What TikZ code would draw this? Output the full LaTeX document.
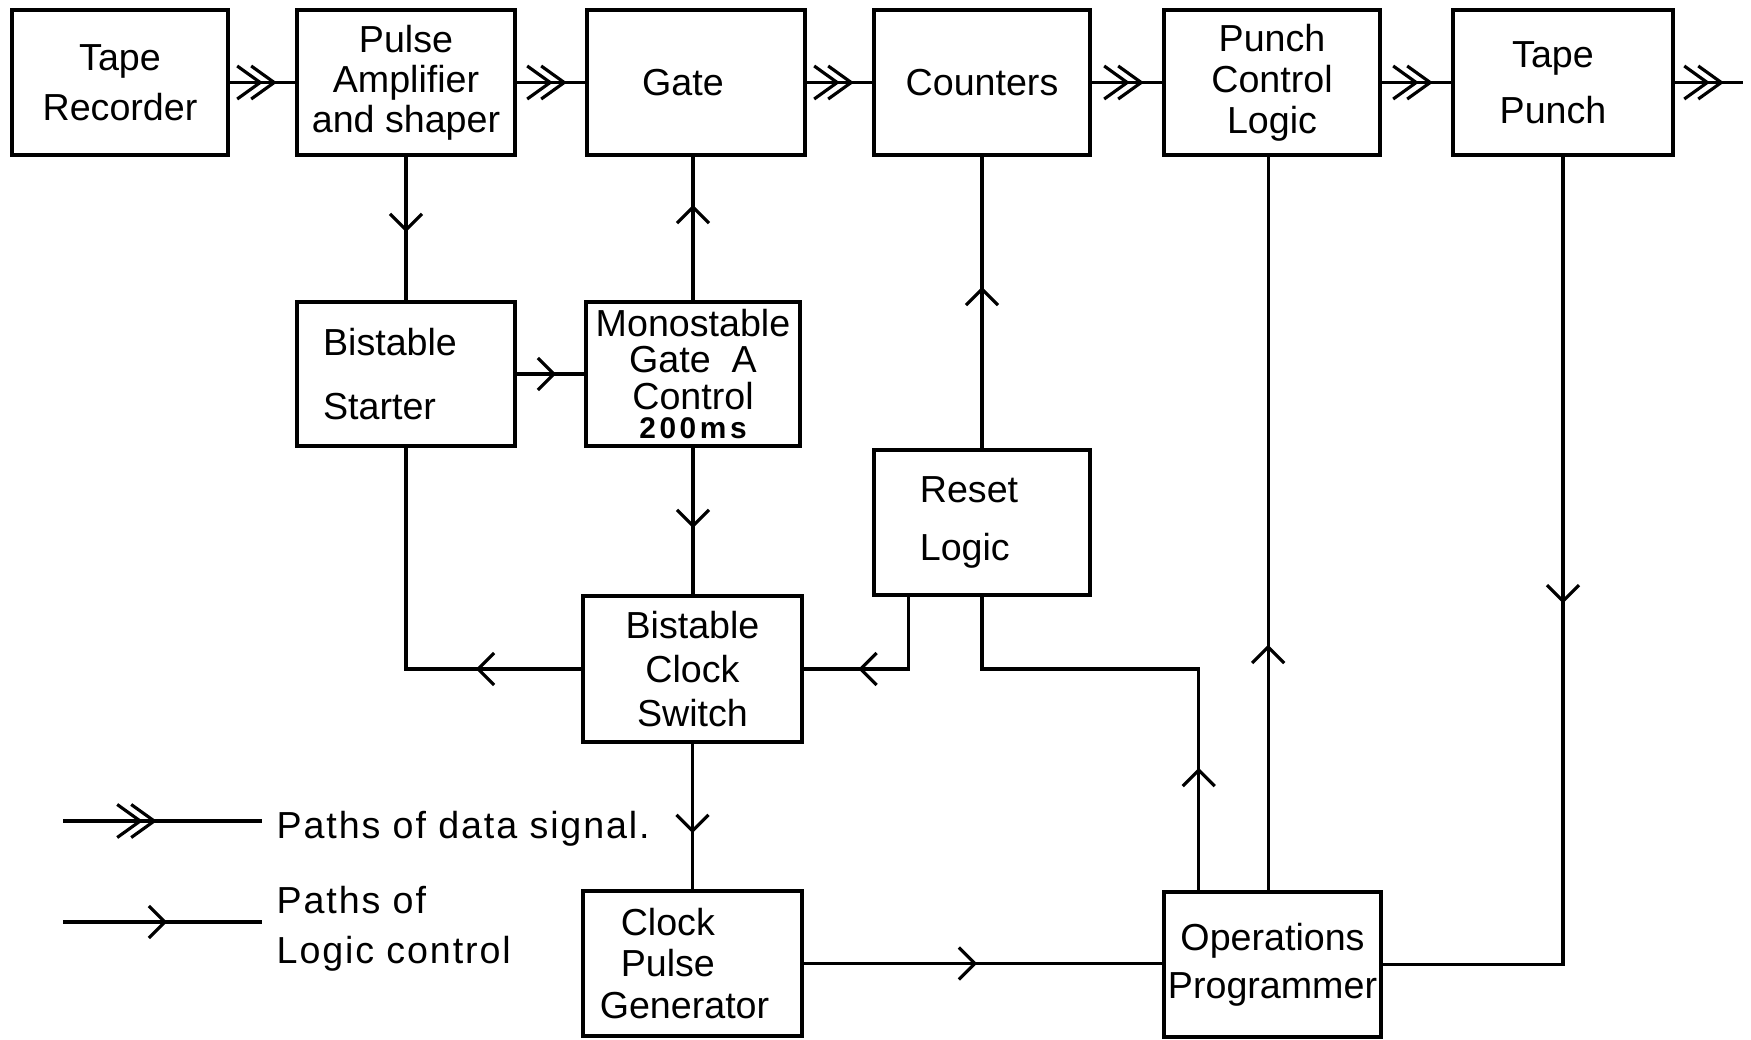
\documentclass[tikz,border=0pt]{standalone}
\usepackage{fontspec}
\setmainfont{Liberation Sans}
\usetikzlibrary{arrows.meta,decorations.markings,calc}
\newcommand\lblsize[1]{\fontsize{10.7pt}{#1}\selectfont}
\begin{document}
\begin{tikzpicture}[x=0.01cm,y=-0.01cm,
  blk/.style={draw, line width=1pt, inner sep=0pt, outer sep=0pt, align=center},
  wire/.style={line width=0.9pt},
  ctrl/.style={wire, postaction={decorate}, decoration={markings,
      mark=at position #1 with {\arrow{Straight Barb[length=1.6mm,width=3.2mm]}}}},
  data/.style 2 args={wire, postaction={decorate}, decoration={markings,
      mark=at position #1 with {\arrow{Straight Barb[length=2.3mm,width=3.3mm]}},
      mark=at position #2 with {\arrow{Straight Barb[length=2.3mm,width=3.3mm]}}}},
  topdata/.style={data={-0.34cm}{-0.2cm}}
]
\useasboundingbox (0,0) rectangle (1751,1039);

% top row
\node[blk, minimum width=2.16cm, minimum height=1.45cm, font=\lblsize{14.2pt}] (tr) at (120,82.5) {Tape\\Recorder};
\node[blk, minimum width=2.18cm, minimum height=1.45cm, font=\lblsize{11.4pt}] (pa) at (406,82.5) {Pulse\\Amplifier\\and shaper};
\node[blk, minimum width=2.18cm, minimum height=1.45cm, font=\lblsize{12pt}] (gate) at (696,82.5) {Gate\hspace*{2.6mm}};
\node[blk, minimum width=2.16cm, minimum height=1.45cm, font=\lblsize{12pt}] (cnt) at (982,82.5) {Counters};
\node[blk, minimum width=2.16cm, minimum height=1.45cm, font=\lblsize{11.7pt}] (pcl) at (1272,82.5) {Punch\\Control\\Logic};
\node[blk, minimum width=2.20cm, minimum height=1.45cm, font=\lblsize{15.9pt}] (tp) at (1563,82.5) {Tape\hspace*{2mm}\\Punch\hspace*{2mm}};

% second row
\node[blk, minimum width=2.18cm, minimum height=1.44cm, align=left, font=\lblsize{18.2pt}] (bs) at (406,374) {Bistable\hspace*{3.2mm}\\Starter};
\node[blk, minimum width=2.14cm, minimum height=1.44cm, font=\lblsize{10.3pt}] (mono) at (693,374) {Monostable\\Gate~~A\\Control\\[-2pt]{\fontsize{8.5pt}{8.5pt}\selectfont\bfseries\addfontfeatures{LetterSpace=12}200ms}};
\node[blk, minimum width=2.16cm, minimum height=1.45cm, align=left, font=\lblsize{16.5pt}] (rst) at (982,522.5) {Reset\hspace*{2.6mm}\\Logic};
\node[blk, minimum width=2.19cm, minimum height=1.46cm, font=\lblsize{12.4pt}] (bcs) at (692.5,669) {Bistable\\Clock\\Switch};
\node[blk, minimum width=2.19cm, minimum height=1.45cm, align=left, font=\lblsize{11.9pt}] (cpg) at (692.5,963.5) {\hspace*{2.1mm}Clock\\\hspace*{2.1mm}Pulse\\Generator\hspace*{1.6mm}};
\node[blk, minimum width=2.17cm, minimum height=1.45cm, font=\lblsize{13.7pt}] (op) at (1272.5,964.5) {Operations\\Programmer};

% data paths
\coordinate (out) at (1743,82.5);
\draw[topdata] (tr.east) -- (pa.west);
\draw[topdata] (pa.east) -- (gate.west);
\draw[topdata] (gate.east) -- (cnt.west);
\draw[topdata] (cnt.east) -- (pcl.west);
\draw[topdata] (pcl.east) -- (tp.west);
\draw[data={-0.33cm}{-0.19cm}] (tp.east) -- (out);

% control paths
\coordinate (rsta) at ($(rst.south west)!0.16!(rst.south east)$);
\coordinate (opa) at ($(op.north west)!0.16!(op.north east)$);
\coordinate (opb) at ($(op.north west)!0.48!(op.north east)$);
\draw[ctrl=0.77cm] (pa.south) -- (bs.north);
\draw[ctrl=0.41cm] (bs.east) -- (mono.west);
\draw[ctrl=0.97cm] (mono.north) -- (mono.north |- gate.south);
\draw[ctrl=0.82cm] (mono.south) -- (mono.south |- bcs.north);
\draw[ctrl=1.63cm] (rst.north) -- (rst.north |- cnt.south);
\draw[ctrl=1.07cm] (bcs.west) -| (bs.south);
\draw[ctrl=1.24cm] (rsta) |- (bcs.east);
\draw[ctrl=1.24cm] (opa) -- (opa |- bcs.east) -| (rst.south);
\draw[ctrl=2.47cm] (opb) -- (opb |- pcl.south);
\draw[ctrl=4.48cm] (tp.south) |- (op.east);
\draw[ctrl=0.91cm] (bcs.south) -- (bcs.south |- cpg.north);
\draw[ctrl=1.75cm] (cpg.east) -- (cpg.east -| op.west);

% legend
\coordinate (d1) at (63,821);
\coordinate (d2) at (262,821);
\draw[data={-1.19cm}{-1.05cm}] (d1) -- (d2);
\node[anchor=base west, inner sep=0pt, font={\lblsize{14pt}\addfontfeatures{LetterSpace=5}}] (dtxt) at (276,838) {Paths of data signal.};
\coordinate (c1) at (63,922);
\coordinate (c2) at (262,922);
\draw[ctrl=1.04cm] (c1) -- (c2);
\node[anchor=west, inner sep=0pt, align=left, font={\lblsize{14.2pt}\addfontfeatures{LetterSpace=5}}] (ctxt) at (276,929) {Paths of\\Logic control};
\end{tikzpicture}
\end{document}
